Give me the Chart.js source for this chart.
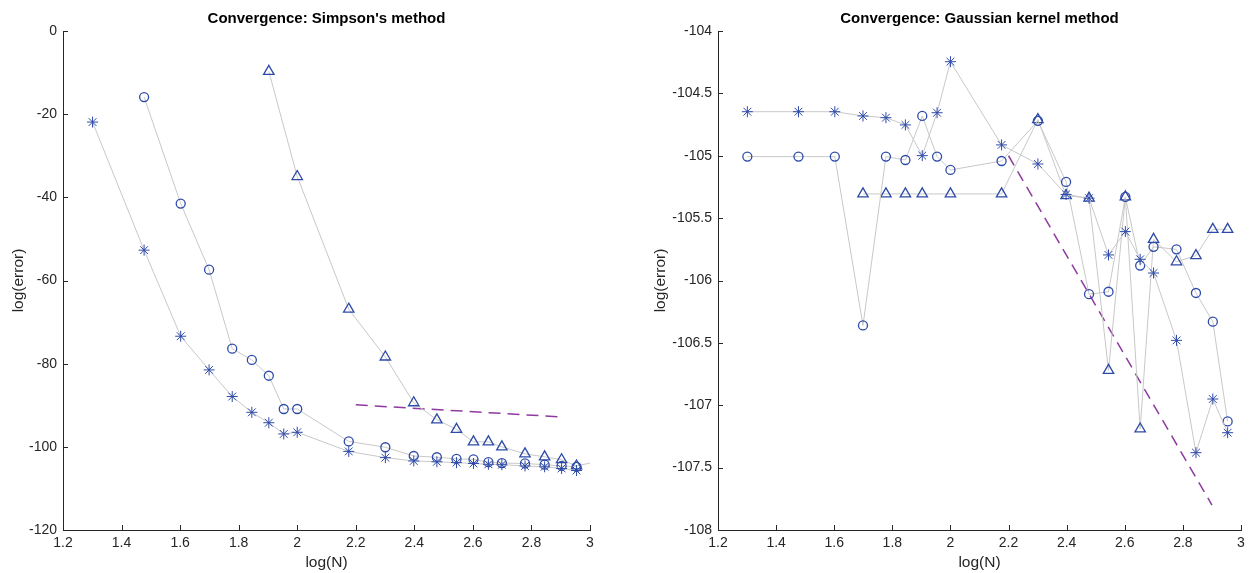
<!DOCTYPE html>
<html><head><meta charset="utf-8">
<script src="https://cdn.jsdelivr.net/npm/chart.js@4.4.0/dist/chart.umd.min.js"></script>
<style>
html,body{margin:0;padding:0;background:#fff;width:1250px;height:573px;overflow:hidden;}
canvas{position:absolute;top:0;}
#c1{left:0;} #c2{left:640px;}
</style></head><body>
<canvas id="c1" width="620" height="573"></canvas>
<canvas id="c2" width="610" height="573"></canvas>
<script>
// ---- data ----
const logN = [1.301, 1.477, 1.602, 1.699, 1.778, 1.845, 1.903, 1.954, 2.000, 2.176, 2.301, 2.398, 2.477, 2.544, 2.602, 2.653, 2.699, 2.778, 2.845, 2.903, 2.954];

// Simpson's method (left)
const simpStarX = logN;
const simpStar = [-21.9, -52.7, -73.4, -81.5, -87.9, -91.7, -94.2, -96.9, -96.5, -101.1, -102.6, -103.4, -103.6, -103.8, -104.0, -104.2, -104.3, -104.6, -104.8, -105.2, -105.7];
const simpCircX = [1.477, 1.602, 1.699, 1.778, 1.845, 1.903, 1.954, 2.000, 2.176, 2.301, 2.398, 2.477, 2.544, 2.602, 2.653, 2.699, 2.778, 2.845, 2.903, 2.954];
const simpCirc = [-15.9, -41.5, -57.4, -76.4, -79.1, -82.9, -90.9, -90.9, -98.7, -100.1, -102.2, -102.5, -102.9, -103.0, -103.7, -103.9, -104.0, -104.3, -104.6, -104.8];
const simpTriX = [1.903, 2.000, 2.176, 2.301, 2.398, 2.477, 2.544, 2.602, 2.653, 2.699, 2.778, 2.845, 2.903, 2.954];
const simpTri = [-9.7, -35.0, -66.9, -78.4, -89.4, -93.5, -95.8, -98.8, -98.8, -100.0, -101.7, -102.4, -103.1, -104.6];
const simpTailX = [2.954, 3.0];
const simpTail = [-104.6, -103.9];
const simpRefX = [2.2, 2.9];
const simpRef = [-89.9, -92.8];

// Gaussian kernel method (right)
const gaussStarX = logN;
const gaussStar = [-104.647, -104.647, -104.647, -104.681, -104.695, -104.753, -104.999, -104.655, -104.246, -104.913, -105.066, -105.31, -105.34, -105.795, -105.608, -105.83, -105.94, -106.48, -107.38, -106.95, -107.22];
const gaussCircX = logN;
const gaussCirc = [-105.007, -105.007, -105.007, -106.36, -105.007, -105.034, -104.681, -105.007, -105.114, -105.042, -104.72, -105.21, -106.11, -106.09, -105.33, -105.88, -105.73, -105.75, -106.10, -106.33, -107.13];
const gaussTriX = [1.699, 1.778, 1.845, 1.903, 2.000, 2.176, 2.301, 2.398, 2.477, 2.544, 2.602, 2.653, 2.699, 2.778, 2.845, 2.903, 2.954];
const gaussTri = [-105.306, -105.306, -105.306, -105.306, -105.306, -105.306, -104.71, -105.32, -105.34, -106.72, -105.33, -107.19, -105.67, -105.85, -105.80, -105.59, -105.59];
const gaussRefX = [2.2, 2.9];
const gaussRef = [-105.0, -107.8];

const xTicks = {min: 1.2, max: 3, step: 0.2};
const simpY = {min: -120, max: 0, step: 20};
const gaussY = {min: -108, max: -104, step: 0.5};

// ---- styling ----
const FAM = '"Liberation Sans", Arial, Helvetica, sans-serif';
const BLUE = '#2d4aa8';
const GRAY = '#c8c8c8';
const PURPLE = '#8e3a9f';
const AXC = '#262626';

const pts = (xs, ys) => xs.map((x, i) => ({x: x, y: ys[i]}));
const fmt = v => String(Math.round(v * 10) / 10);

const axesDeco = {
  id: 'axesDeco',
  afterDraw(chart, args, opts) {
    const {ctx, chartArea: a, scales: {x, y}} = chart;
    ctx.save();
    ctx.strokeStyle = AXC; ctx.lineWidth = 1;
    ctx.beginPath();
    x.ticks.forEach(t => { const px = Math.round(x.getPixelForValue(t.value)) + 0.5; ctx.moveTo(px, a.bottom); ctx.lineTo(px, a.bottom - 5); });
    y.ticks.forEach(t => { const py = Math.round(y.getPixelForValue(t.value)) + 0.5; ctx.moveTo(a.left, py); ctx.lineTo(a.left + 5, py); });
    ctx.stroke();
    ctx.font = 'bold 15px ' + FAM;
    ctx.fillStyle = '#000'; ctx.textAlign = 'center'; ctx.textBaseline = 'middle';
    ctx.fillText(opts.text, (a.left + a.right) / 2, 19);
    ctx.restore();
  }
};

function line(xs, ys, style, r, bw) {
  return {data: pts(xs, ys), showLine: true, borderColor: GRAY, borderWidth: 1, tension: 0,
    pointStyle: style, pointRadius: r, pointHoverRadius: r, pointBorderColor: BLUE,
    pointBackgroundColor: 'rgba(0,0,0,0)', pointBorderWidth: bw};
}
function dashed(xs, ys, dash) {
  return {data: pts(xs, ys), showLine: true, borderColor: PURPLE, borderWidth: 1.5,
    borderDash: dash, pointRadius: 0, tension: 0};
}

function opts(yr, yW, yTitlePad, padRight, title) {
  return {
    responsive: false, animation: false, devicePixelRatio: 1,
    layout: {padding: {top: 31, right: padRight, left: 0, bottom: 0}},
    plugins: {legend: {display: false}, tooltip: {enabled: false}, title: {display: false}, axesDeco: {text: title}},
    scales: {
      x: {type: 'linear', min: xTicks.min, max: xTicks.max,
        ticks: {stepSize: xTicks.step, padding: 5, color: AXC, font: {size: 14, family: FAM}, callback: fmt, maxRotation: 0, autoSkip: false},
        grid: {display: false, drawTicks: false}, border: {display: true, color: AXC, width: 1},
        title: {display: true, text: 'log(N)', color: AXC, font: {size: 15.5, family: FAM}, padding: {top: 0, bottom: 1}},
        afterFit(s) { s.height = 43; }},
      y: {type: 'linear', min: yr.min, max: yr.max,
        ticks: {stepSize: yr.step, padding: 6, color: AXC, font: {size: 14, family: FAM}, callback: fmt, autoSkip: false},
        grid: {display: false, drawTicks: false}, border: {display: true, color: AXC, width: 1},
        title: {display: true, text: 'log(error)', color: AXC, font: {size: 15.5, family: FAM}, padding: {top: yTitlePad, bottom: 0}},
        afterFit(s) { s.width = yW; }}
    }
  };
}

new Chart(document.getElementById('c1'), {
  type: 'scatter',
  data: {datasets: [
    line(simpStarX, simpStar, 'star', 5.5, 1),
    line(simpCircX, simpCirc, 'circle', 4.5, 1.3),
    line(simpTriX, simpTri, 'triangle', 6, 1.3),
    line(simpTailX, simpTail, 'circle', 0, 1),
    dashed(simpRefX, simpRef, [12, 7])
  ]},
  options: opts(simpY, 63, 9, 30, "Convergence: Simpson's method"),
  plugins: [axesDeco]
});

new Chart(document.getElementById('c2'), {
  type: 'scatter',
  data: {datasets: [
    line(gaussStarX, gaussStar, 'star', 5.5, 1),
    line(gaussCircX, gaussCirc, 'circle', 4.5, 1.3),
    line(gaussTriX, gaussTri, 'triangle', 6, 1.3),
    dashed(gaussRefX, gaussRef, [11, 7])
  ]},
  options: opts(gaussY, 78, 11, 9, 'Convergence: Gaussian kernel method'),
  plugins: [axesDeco]
});
</script>
</body></html>
